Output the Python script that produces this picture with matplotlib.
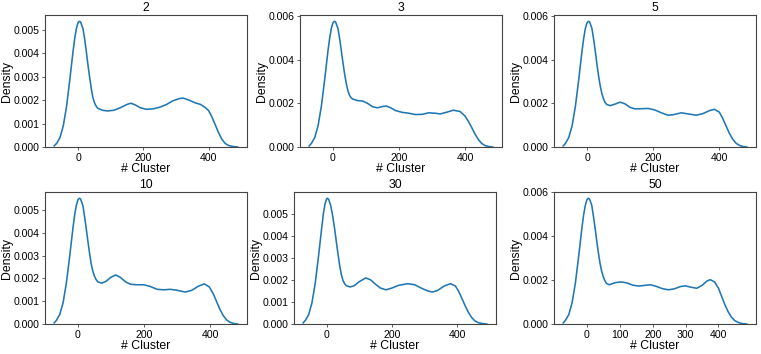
import numpy as np
import matplotlib.pyplot as plt

plt.rcParams['font.family'] = ['Liberation Sans', 'DejaVu Sans']

# density curves, one (x, y) pair per panel
titles = ['2', '3', '5', '10', '30', '50']

x_2 = [-73, -65, -55, -45, -35, -25, -15, -10, -5, 0, 4, 8, 15, 20, 25, 30, 35, 40, 45, 50, 55,
       60, 75, 90, 110, 130, 150, 162, 175, 190, 210, 230, 250, 270, 290, 310, 322, 340, 360, 375,
       390, 400, 410, 420, 430, 440, 450, 460, 475, 489]
y_2 = [0.00005, 0.00016, 0.00041, 0.00091, 0.00174, 0.00288, 0.00411, 0.00464, 0.00506, 0.00531,
       0.00537, 0.00534, 0.00506, 0.00465, 0.00413, 0.00356, 0.00304, 0.00256, 0.00215, 0.00190,
       0.00176, 0.00166, 0.00157, 0.00154, 0.00157, 0.00168, 0.00182, 0.00187, 0.00180, 0.00168,
       0.00161, 0.00163, 0.00170, 0.00181, 0.00197, 0.00207, 0.00209, 0.00200, 0.00188, 0.00182,
       0.00168, 0.00155, 0.00128, 0.00095, 0.00062, 0.00034, 0.00016, 0.00007, 0.00002, 0.0]

x_3 = [-72, -65, -55, -45, -35, -25, -15, -10, -5, 0, 4, 8, 15, 20, 25, 30, 35, 40, 45, 50, 55,
       60, 75, 90, 105, 120, 135, 150, 162, 175, 190, 210, 230, 250, 270, 290, 310, 325, 345, 365,
       385, 400, 410, 420, 430, 440, 450, 460, 472, 484]
y_3 = [0.00005, 0.00017, 0.00044, 0.00098, 0.00188, 0.00310, 0.00442, 0.00499, 0.00544, 0.00570,
       0.00577, 0.00574, 0.00545, 0.00500, 0.00447, 0.00390, 0.00338, 0.00295, 0.00260, 0.00238,
       0.00226, 0.00220, 0.00213, 0.00211, 0.00200, 0.00185, 0.00180, 0.00186, 0.00188, 0.00180,
       0.00167, 0.00159, 0.00155, 0.00149, 0.00150, 0.00157, 0.00155, 0.00152, 0.00160, 0.00169,
       0.00163, 0.00142, 0.00118, 0.00090, 0.00060, 0.00035, 0.00017, 0.00007, 0.00002, 0.0]

x_5 = [-72, -65, -55, -45, -35, -25, -15, -10, -5, 0, 4, 8, 15, 20, 25, 30, 35, 40, 45, 50, 55,
       60, 70, 85, 100, 115, 130, 145, 165, 185, 205, 225, 245, 260, 285, 305, 330, 350, 370, 385,
       400, 410, 420, 430, 440, 450, 460, 472, 483]
y_5 = [0.00005, 0.00017, 0.00044, 0.00098, 0.00188, 0.00310, 0.00442, 0.00499, 0.00544, 0.00570,
       0.00577, 0.00574, 0.00543, 0.00495, 0.00440, 0.00380, 0.00326, 0.00280, 0.00245, 0.00220,
       0.00204, 0.00195, 0.00190, 0.00197, 0.00206, 0.00198, 0.00182, 0.00175, 0.00176, 0.00177,
       0.00170, 0.00157, 0.00146, 0.00148, 0.00157, 0.00152, 0.00146, 0.00153, 0.00167, 0.00173,
       0.00160, 0.00132, 0.00098, 0.00064, 0.00037, 0.00018, 0.00008, 0.00002, 0.0]

x_10 = [-72, -65, -55, -45, -35, -25, -15, -10, -5, 0, 4, 8, 15, 20, 25, 30, 35, 40, 45, 50, 55,
        60, 72, 85, 100, 114, 128, 145, 160, 180, 200, 220, 240, 260, 280, 300, 325, 345, 365, 383,
        398, 410, 420, 430, 440, 450, 460, 472, 484]
y_10 = [0.00005, 0.00016, 0.00042, 0.00093, 0.00180, 0.00296, 0.00422, 0.00477, 0.00519, 0.00545,
        0.00551, 0.00548, 0.00519, 0.00472, 0.00420, 0.00365, 0.00312, 0.00265, 0.00232, 0.00210,
        0.00195, 0.00185, 0.00179, 0.00187, 0.00205, 0.00215, 0.00205, 0.00184, 0.00174, 0.00172,
        0.00172, 0.00164, 0.00152, 0.00150, 0.00152, 0.00148, 0.00140, 0.00148, 0.00166, 0.00176,
        0.00162, 0.00132, 0.00098, 0.00064, 0.00037, 0.00018, 0.00008, 0.00002, 0.0]

x_30 = [-72, -65, -55, -45, -35, -25, -15, -10, -5, 0, 2, 6, 12, 18, 24, 30, 35, 40, 45, 50, 55,
        60, 72, 85, 100, 120, 135, 150, 165, 182, 200, 220, 248, 270, 290, 310, 324, 340, 360, 380,
        395, 405, 415, 425, 435, 445, 455, 465, 478, 491]
y_30 = [0.00005, 0.00017, 0.00043, 0.00096, 0.00185, 0.00306, 0.00437, 0.00500, 0.00545, 0.00568,
        0.00570, 0.00566, 0.00540, 0.00495, 0.00437, 0.00370, 0.00316, 0.00265, 0.00225, 0.00198,
        0.00183, 0.00174, 0.00168, 0.00174, 0.00192, 0.00209, 0.00200, 0.00180, 0.00163, 0.00155,
        0.00163, 0.00175, 0.00183, 0.00178, 0.00163, 0.00150, 0.00145, 0.00152, 0.00172, 0.00183,
        0.00172, 0.00148, 0.00115, 0.00082, 0.00052, 0.00029, 0.00014, 0.00006, 0.00002, 0.0]

x_50 = [-72, -65, -55, -45, -35, -25, -15, -10, -5, 0, 4, 8, 15, 20, 25, 30, 35, 40, 45, 50, 55,
        60, 68, 85, 102, 120, 140, 157, 175, 193, 210, 230, 248, 265, 285, 299, 315, 334, 350, 365,
        375, 388, 400, 410, 420, 430, 440, 450, 460, 472, 486]
y_50 = [0.00005, 0.00017, 0.00043, 0.00097, 0.00186, 0.00308, 0.00439, 0.00496, 0.00540, 0.00566,
        0.00573, 0.00570, 0.00540, 0.00490, 0.00437, 0.00378, 0.00325, 0.00276, 0.00240, 0.00215,
        0.00196, 0.00185, 0.00179, 0.00188, 0.00192, 0.00188, 0.00177, 0.00173, 0.00176, 0.00179,
        0.00172, 0.00161, 0.00156, 0.00160, 0.00171, 0.00174, 0.00168, 0.00163, 0.00176, 0.00196,
        0.00202, 0.00192, 0.00163, 0.00124, 0.00086, 0.00054, 0.00030, 0.00015, 0.00007, 0.00002,
        0.0]

xs = [x_2, x_3, x_5, x_10, x_30, x_50]
ys = [y_2, y_3, y_5, y_10, y_30, y_50]
xticks = [[0, 200, 400]] * 5 + [[0, 100, 200, 300, 400]]

# axes boxes in figure fractions
boxes = [
    [0.0591, 0.5847, 0.2654, 0.3729],
    [0.3942, 0.5847, 0.2654, 0.3729],
    [0.7280, 0.5847, 0.2654, 0.3729],
    [0.0591, 0.0847, 0.2654, 0.3729],
    [0.3863, 0.0847, 0.2654, 0.3729],
    [0.7280, 0.0847, 0.2654, 0.3729],
]

fig = plt.figure(figsize=(7.61, 3.54), dpi=100)
for i in range(6):
    ax = fig.add_axes(boxes[i])
    ax.plot(xs[i], ys[i], c='#1f77b4', lw=1.15)
    ax.set_ylim(0, max(ys[i]) * 1.05)
    ax.set_xticks(xticks[i])
    ax.set_title(titles[i], fontsize=8.8, pad=3)
    ax.set_xlabel('# Cluster', fontsize=8.8, labelpad=0)
    ax.set_ylabel('Density', fontsize=8.8, labelpad=0.5)
    ax.tick_params(labelsize=7.6, length=2.5, width=0.6, color='#444444', pad=1.5)
    for s in ax.spines.values():
        s.set_color('#444444')
        s.set_linewidth(0.8)

fig.savefig('out.png', dpi=100)
